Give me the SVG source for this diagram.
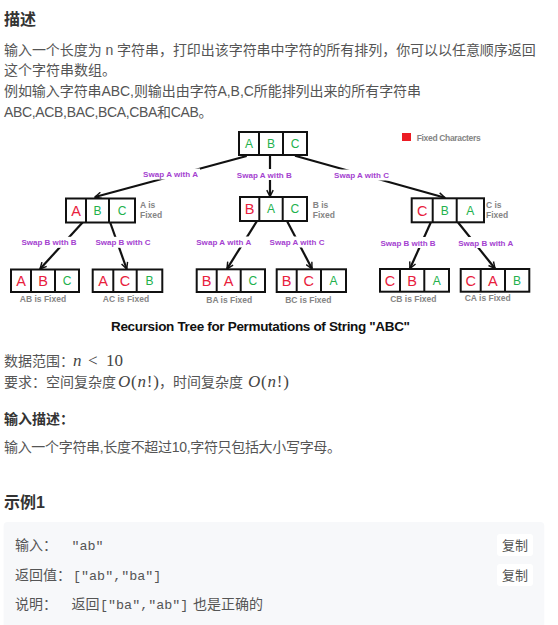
<svg xmlns="http://www.w3.org/2000/svg" width="558" height="625" viewBox="0 0 558 625">
<defs>
<style>
.h{font-family:"Liberation Sans","Noto Sans CJK SC",sans-serif;font-weight:bold;font-size:16px;fill:#333}
.t{font-family:"Liberation Sans","Noto Sans CJK SC",sans-serif;font-size:14px;fill:#555}
.m{font-family:"Liberation Serif",serif;font-size:17px;fill:#444}
.mi{font-style:italic}
.mono{font-family:"Liberation Mono",monospace;font-size:13.4px;fill:#555}
.box{fill:#fff;stroke:#111;stroke-width:2}
.div{stroke:#111;stroke-width:2}
.r{font-family:"Liberation Sans",sans-serif;font-size:14.5px;fill:#e8203c;text-anchor:middle}
.g{font-family:"Liberation Sans",sans-serif;font-size:12px;fill:#22b14c;text-anchor:middle}
.lab{font-family:"Liberation Sans",sans-serif;font-size:8px;font-weight:bold;fill:#a43fd0;text-anchor:middle}
.fx{font-family:"Liberation Sans",sans-serif;font-size:8.5px;font-weight:bold;fill:#858585}
.fxc{font-family:"Liberation Sans",sans-serif;font-size:8.5px;font-weight:bold;fill:#858585;text-anchor:middle}
.edge{stroke:#111;stroke-width:2.2;fill:none;marker-end:url(#arr)}
.lb{fill:#fff}
.btn{fill:#fff}
.bt{font-family:"Liberation Sans","Noto Sans CJK SC",sans-serif;font-size:13px;fill:#555;text-anchor:middle}
</style>
<marker id="arr" viewBox="0 0 10 10" refX="9" refY="5" markerWidth="8" markerHeight="8" markerUnits="userSpaceOnUse" orient="auto">
<path d="M1,1 L9,5 L1,9" stroke="#111" stroke-width="1.8" fill="none"/>
</marker>
</defs>
<rect x="0" y="0" width="558" height="625" fill="#fff"/>

<text class="h" x="4" y="24.5">描述</text>
<text class="t" x="4" y="54.5" textLength="531.7">输入一个长度为 n 字符串，打印出该字符串中字符的所有排列，你可以以任意顺序返回</text>
<text class="t" x="4" y="75.3">这个字符串数组。</text>
<text class="t" x="4" y="96" textLength="417">例如输入字符串ABC,则输出由字符A,B,C所能排列出来的所有字符串</text>
<text class="t" x="4" y="117" textLength="208.5">ABC,ACB,BAC,BCA,CBA和CAB。</text>

<g id="connectors">
<line class="edge" x1="246.7" y1="156" x2="95" y2="197"/>
<line class="edge" x1="270" y1="155" x2="270" y2="196.5"/>
<line class="edge" x1="295" y1="155.7" x2="445" y2="197.7"/>
<line class="edge" x1="83" y1="222" x2="40" y2="269"/>
<line class="edge" x1="110" y1="222" x2="126.7" y2="269"/>
<line class="edge" x1="257" y1="221" x2="227" y2="268.8"/>
<line class="edge" x1="287" y1="221" x2="312" y2="268.8"/>
<line class="edge" x1="431" y1="222" x2="410" y2="268.5"/>
<line class="edge" x1="457.7" y1="222" x2="495" y2="268.5"/>
<g id="edge-labels">
<rect class="lb" x="141" y="168.5" width="59" height="11"/>
<text class="lab" x="170.5" y="177" textLength="55">Swap A with A</text>
<rect class="lb" x="235" y="169" width="59" height="11"/>
<text class="lab" x="264.3" y="177.5" textLength="55">Swap A with B</text>
<rect class="lb" x="332" y="169.5" width="59" height="11"/>
<text class="lab" x="361.5" y="178" textLength="55">Swap A with C</text>
<rect class="lb" x="20" y="236.8" width="59" height="11"/>
<text class="lab" x="49" y="245.3" textLength="55">Swap B with B</text>
<rect class="lb" x="94" y="236.8" width="59" height="11"/>
<text class="lab" x="123" y="245.3" textLength="55">Swap B with C</text>
<rect class="lb" x="194.5" y="236.5" width="59" height="11"/>
<text class="lab" x="223.7" y="245" textLength="55">Swap A with A</text>
<rect class="lb" x="268" y="236.5" width="59" height="11"/>
<text class="lab" x="297" y="245" textLength="55">Swap A with C</text>
<rect class="lb" x="379" y="237" width="59" height="11"/>
<text class="lab" x="408" y="245.5" textLength="55">Swap B with B</text>
<rect class="lb" x="456.5" y="237" width="59" height="11"/>
<text class="lab" x="485.7" y="245.5" textLength="55">Swap B with A</text>
</g>
</g>

<g id="legend">
<rect x="402" y="133" width="9" height="8" fill="#ec1c24"/>
<text class="fx" x="416.7" y="140.5" textLength="64">Fixed Characters</text>
</g>

<g id="n-ABC">
<rect class="box" x="239" y="132" width="68" height="23"/>
<line class="div" x1="259" y1="132" x2="259" y2="155"/><line class="div" x1="283" y1="132" x2="283" y2="155"/>
<text class="g" x="249" y="147.8">A</text><text class="g" x="271" y="147.8">B</text><text class="g" x="295" y="147.8">C</text>
</g>

<g id="n-A-BC">
<rect class="box" x="66" y="198.5" width="69" height="24"/>
<line class="div" x1="86" y1="198.5" x2="86" y2="222.5"/><line class="div" x1="109" y1="198.5" x2="109" y2="222.5"/>
<text class="r" x="76" y="215.8">A</text><text class="g" x="97.5" y="214.8">B</text><text class="g" x="122" y="214.8">C</text>
<text class="fx" x="140" y="207.7">A is</text><text class="fx" x="140" y="218.3">Fixed</text>
</g>

<g id="n-B-AC">
<rect class="box" x="240" y="197" width="67" height="24"/>
<line class="div" x1="259.3" y1="197" x2="259.3" y2="221"/><line class="div" x1="282.7" y1="197" x2="282.7" y2="221"/>
<text class="r" x="249.7" y="214.3">B</text><text class="g" x="271" y="213.3">A</text><text class="g" x="294.8" y="213.3">C</text>
<text class="fx" x="312.7" y="207.7">B is</text><text class="fx" x="312.7" y="218.3">Fixed</text>
</g>

<g id="n-C-BA">
<rect class="box" x="411.7" y="198.3" width="72.3" height="24"/>
<line class="div" x1="432.7" y1="198.3" x2="432.7" y2="222.3"/><line class="div" x1="456.7" y1="198.3" x2="456.7" y2="222.3"/>
<text class="r" x="422.2" y="215.6">C</text><text class="g" x="444.7" y="214.6">B</text><text class="g" x="470.3" y="214.6">A</text>
<text class="fx" x="486" y="207.7">C is</text><text class="fx" x="486" y="218.3">Fixed</text>
</g>

<g id="n-AB-C">
<rect class="box" x="11" y="269.5" width="68" height="22.5"/>
<line class="div" x1="31" y1="269.5" x2="31" y2="292"/><line class="div" x1="55" y1="269.5" x2="55" y2="292"/>
<text class="r" x="21" y="286">A</text><text class="r" x="43" y="286">B</text><text class="g" x="67" y="285">C</text>
<text class="fxc" x="43" y="302">AB is Fixed</text>
</g>

<g id="n-AC-B">
<rect class="box" x="92.7" y="269.5" width="69.6" height="22.5"/>
<line class="div" x1="113.3" y1="269.5" x2="113.3" y2="292"/><line class="div" x1="136.7" y1="269.5" x2="136.7" y2="292"/>
<text class="r" x="103" y="286">A</text><text class="r" x="125" y="286">C</text><text class="g" x="149.5" y="285">B</text>
<text class="fxc" x="126" y="301.5">AC is Fixed</text>
</g>

<g id="n-BA-C">
<rect class="box" x="196.7" y="269.3" width="68.3" height="22.7"/>
<line class="div" x1="216.7" y1="269.3" x2="216.7" y2="292"/><line class="div" x1="240.7" y1="269.3" x2="240.7" y2="292"/>
<text class="r" x="206.7" y="286">B</text><text class="r" x="228.7" y="286">A</text><text class="g" x="252.8" y="285">C</text>
<text class="fxc" x="229.3" y="303">BA is Fixed</text>
</g>

<g id="n-BC-A">
<rect class="box" x="276.7" y="269.3" width="69.3" height="22.7"/>
<line class="div" x1="296.7" y1="269.3" x2="296.7" y2="292"/><line class="div" x1="321" y1="269.3" x2="321" y2="292"/>
<text class="r" x="286.7" y="286">B</text><text class="r" x="308.8" y="286">C</text><text class="g" x="333.5" y="285">A</text>
<text class="fxc" x="308.3" y="302.5">BC is Fixed</text>
</g>

<g id="n-CB-A">
<rect class="box" x="380" y="269" width="69" height="22.7"/>
<line class="div" x1="400" y1="269" x2="400" y2="291.7"/><line class="div" x1="424.3" y1="269" x2="424.3" y2="291.7"/>
<text class="r" x="390" y="285.7">C</text><text class="r" x="412" y="285.7">B</text><text class="g" x="436.7" y="284.7">A</text>
<text class="fxc" x="413.3" y="301.5">CB is Fixed</text>
</g>

<g id="n-CA-B">
<rect class="box" x="460.7" y="269" width="68.6" height="22.7"/>
<line class="div" x1="480.7" y1="269" x2="480.7" y2="291.7"/><line class="div" x1="505" y1="269" x2="505" y2="291.7"/>
<text class="r" x="470.7" y="285.7">C</text><text class="r" x="492.8" y="285.7">A</text><text class="g" x="517" y="284.7">B</text>
<text class="fxc" x="487.7" y="301.3">CA is Fixed</text>
</g>

<text x="260.5" y="330.5" text-anchor="middle" font-family="Liberation Sans, sans-serif" font-weight="bold" font-size="13.5" fill="#111" textLength="299">Recursion Tree for Permutations of String "ABC"</text>

<text class="t" x="4" y="366">数据范围：</text>
<text class="m mi" x="73" y="366">n</text>
<text class="m" x="88" y="366">&lt;</text>
<text class="m" x="106" y="366">10</text>

<text class="t" x="4" y="387">要求：空间复杂度</text>
<text class="m" x="118" y="387" textLength="41"><tspan class="mi">O</tspan>(<tspan class="mi">n</tspan>!)</text>
<text class="t" x="159" y="387">，时间复杂度</text>
<text class="m" x="248" y="387" textLength="41"><tspan class="mi">O</tspan>(<tspan class="mi">n</tspan>!)</text>

<text class="h" x="4" y="424" style="font-size:14px">输入描述：</text>
<text class="t" x="4" y="452" textLength="337">输入一个字符串,长度不超过10,字符只包括大小写字母。</text>

<text class="h" x="4" y="508">示例1</text>

<rect x="3.6" y="522" width="540.7" height="110" rx="4" fill="#f7f8fa"/>
<text class="t" x="15" y="550">输入：</text>
<text class="mono" x="71.4" y="550">"ab"</text>
<text class="t" x="15" y="580">返回值：</text>
<text class="mono" x="73" y="580">["ab","ba"]</text>
<text class="t" x="15" y="609">说明：</text>
<text class="t" x="71.4" y="609">返回</text>
<text class="mono" x="100" y="609">["ba","ab"]</text>
<text class="t" x="193" y="609">也是正确的</text>

<g id="copy1"><rect class="btn" x="497" y="534" width="36" height="22" rx="3"/><text class="bt" x="515" y="549.5">复制</text></g>
<g id="copy2"><rect class="btn" x="497" y="564" width="36" height="22" rx="3"/><text class="bt" x="515" y="579.5">复制</text></g>
</svg>
